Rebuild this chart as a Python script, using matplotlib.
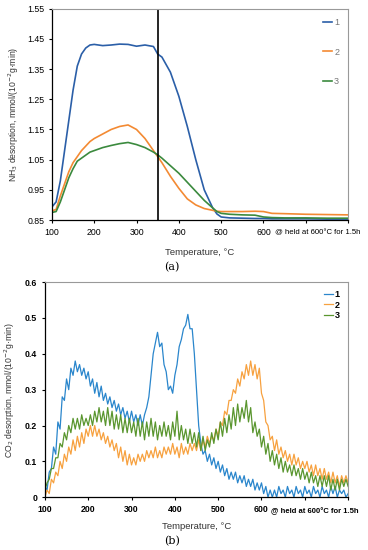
import matplotlib
matplotlib.use("Agg")
import matplotlib.pyplot as plt
import matplotlib.transforms as mtransforms

# (a) NH3 desorption ----------------------------------------------------------
nh3_temp = [100, 110, 120, 130, 140, 150, 160, 170, 180, 190, 200, 220, 240, 260,
            280, 300, 320, 340, 350, 360, 380, 400, 420, 440, 460, 480, 490, 500,
            520, 550, 580, 600, 620, 650, 700, 750, 800]
nh3_1 = [0.893, 0.91, 0.98, 1.08, 1.18, 1.28, 1.36, 1.40, 1.42, 1.43, 1.432, 1.428,
         1.430, 1.433, 1.432, 1.426, 1.43, 1.425, 1.40, 1.39, 1.34, 1.26, 1.16, 1.05,
         0.95, 0.89, 0.87, 0.86, 0.857, 0.856, 0.855, 0.855, 0.854, 0.854, 0.854,
         0.853, 0.853]
nh3_2 = [0.88, 0.885, 0.93, 0.97, 1.01, 1.04, 1.06, 1.08, 1.095, 1.11, 1.12, 1.135,
         1.15, 1.16, 1.165, 1.15, 1.12, 1.08, 1.06, 1.04, 0.995, 0.955, 0.92, 0.90,
         0.888, 0.882, 0.879, 0.878, 0.878, 0.878, 0.879, 0.878, 0.872, 0.871, 0.869,
         0.868, 0.867]
nh3_3 = [0.875, 0.878, 0.91, 0.95, 0.99, 1.02, 1.045, 1.055, 1.065, 1.075, 1.08, 1.09,
         1.097, 1.103, 1.107, 1.10, 1.09, 1.075, 1.066, 1.055, 1.03, 1.005, 0.975,
         0.945, 0.915, 0.89, 0.878, 0.872, 0.869, 0.867, 0.866, 0.86, 0.858, 0.857,
         0.857, 0.856, 0.856]

# (b) CO2 desorption, every 5 degC from 100 to 800 ----------------------------
co2_temp = list(range(100, 805, 5))
co2_1 = [0.03, 0.02, 0.07, 0.08, 0.14, 0.12, 0.21, 0.19, 0.28, 0.27,
         0.33, 0.30, 0.36, 0.34, 0.38, 0.35, 0.37, 0.34, 0.36, 0.33,
         0.35, 0.31, 0.33, 0.29, 0.32, 0.28, 0.31, 0.27, 0.29, 0.26,
         0.28, 0.25, 0.27, 0.24, 0.26, 0.23, 0.25, 0.22, 0.24, 0.21,
         0.24, 0.21, 0.23, 0.20, 0.23, 0.20, 0.23, 0.25, 0.28, 0.34,
         0.40, 0.43, 0.46, 0.42, 0.43, 0.37, 0.35, 0.30, 0.31, 0.29,
         0.34, 0.37, 0.42, 0.44, 0.47, 0.48, 0.51, 0.47, 0.47, 0.40,
         0.30, 0.20, 0.15, 0.12, 0.13, 0.10, 0.12, 0.09, 0.11, 0.08,
         0.10, 0.07, 0.09, 0.06, 0.08, 0.05, 0.07, 0.05, 0.07, 0.04,
         0.06, 0.04, 0.06, 0.03, 0.05, 0.03, 0.05, 0.02, 0.04, 0.02,
         0.04, 0.01, 0.03, 0.00, 0.02, 0.00, 0.02, 0.00, 0.03, 0.01,
         0.02, 0.00, 0.03, 0.01, 0.02, 0.00, 0.03, 0.01, 0.02, 0.00,
         0.03, 0.01, 0.02, 0.00, 0.03, 0.01, 0.02, 0.00, 0.03, 0.01,
         0.02, 0.00, 0.03, 0.01, 0.03, 0.00, 0.02, 0.01, 0.02, 0.00,
         0.01]
co2_2 = [0.00, 0.02, 0.01, 0.05, 0.04, 0.07, 0.06, 0.10, 0.08, 0.12,
         0.10, 0.14, 0.12, 0.16, 0.13, 0.17, 0.14, 0.18, 0.15, 0.19,
         0.17, 0.20, 0.17, 0.20, 0.17, 0.19, 0.16, 0.18, 0.15, 0.17,
         0.14, 0.16, 0.13, 0.15, 0.11, 0.14, 0.10, 0.13, 0.09, 0.12,
         0.09, 0.11, 0.09, 0.12, 0.10, 0.12, 0.10, 0.13, 0.11, 0.13,
         0.11, 0.14, 0.11, 0.13, 0.11, 0.14, 0.12, 0.14, 0.12, 0.15,
         0.12, 0.14, 0.11, 0.15, 0.12, 0.14, 0.12, 0.15, 0.13, 0.15,
         0.13, 0.16, 0.13, 0.16, 0.14, 0.17, 0.15, 0.17, 0.16, 0.19,
         0.17, 0.21, 0.20, 0.24, 0.23, 0.27, 0.27, 0.30, 0.29, 0.33,
         0.31, 0.35, 0.33, 0.37, 0.34, 0.38, 0.34, 0.37, 0.33, 0.36,
         0.29, 0.27, 0.21, 0.20, 0.16, 0.17, 0.13, 0.16, 0.12, 0.14,
         0.11, 0.13, 0.10, 0.12, 0.09, 0.12, 0.09, 0.11, 0.08, 0.10,
         0.08, 0.10, 0.07, 0.09, 0.06, 0.09, 0.06, 0.08, 0.05, 0.08,
         0.05, 0.07, 0.04, 0.07, 0.04, 0.06, 0.03, 0.06, 0.04, 0.06,
         0.04]
co2_3 = [0.02, 0.04, 0.05, 0.08, 0.08, 0.11, 0.11, 0.15, 0.14, 0.18,
         0.16, 0.20, 0.18, 0.22, 0.19, 0.22, 0.19, 0.23, 0.20, 0.22,
         0.20, 0.23, 0.20, 0.24, 0.21, 0.25, 0.21, 0.24, 0.20, 0.25,
         0.20, 0.24, 0.19, 0.23, 0.19, 0.23, 0.18, 0.22, 0.18, 0.22,
         0.18, 0.21, 0.17, 0.22, 0.17, 0.21, 0.16, 0.21, 0.17, 0.22,
         0.17, 0.21, 0.16, 0.20, 0.17, 0.21, 0.17, 0.20, 0.16, 0.21,
         0.17, 0.24, 0.16, 0.20, 0.16, 0.19, 0.15, 0.19, 0.15, 0.18,
         0.14, 0.18, 0.13, 0.17, 0.13, 0.16, 0.14, 0.18, 0.15, 0.19,
         0.16, 0.21, 0.17, 0.22, 0.18, 0.23, 0.19, 0.25, 0.20, 0.26,
         0.21, 0.25, 0.22, 0.27, 0.21, 0.25, 0.18, 0.21, 0.17, 0.19,
         0.14, 0.17, 0.12, 0.15, 0.10, 0.13, 0.09, 0.12, 0.08, 0.11,
         0.07, 0.10, 0.07, 0.09, 0.06, 0.09, 0.06, 0.08, 0.05, 0.08,
         0.05, 0.07, 0.04, 0.07, 0.04, 0.06, 0.03, 0.06, 0.03, 0.06,
         0.03, 0.06, 0.02, 0.05, 0.02, 0.05, 0.02, 0.05, 0.03, 0.05,
         0.03]

x_ticks = [100, 200, 300, 400, 500, 600, 700, 800]
x_ticklabels = ["100", "200", "300", "400", "500", "600", "", ""]
nh3_yticks = [0.85, 0.95, 1.05, 1.15, 1.25, 1.35, 1.45, 1.55]
co2_yticks = [0, 0.1, 0.2, 0.3, 0.4, 0.5, 0.6]
labels = ["1", "2", "3"]
hold_note = "@ held at 600°C for 1.5h"

plt.rcParams["font.family"] = ["Liberation Sans", "DejaVu Sans"]

fig = plt.figure(figsize=(3.68, 5.5), dpi=100)
ax1 = fig.add_axes([0.141, 0.600, 0.805, 0.384])
ax2 = fig.add_axes([0.122, 0.096, 0.824, 0.391])


def style_axes(ax):
    for side in ("top", "right"):
        ax.spines[side].set_color("#999999")
        ax.spines[side].set_linewidth(0.8)
    for side in ("left", "bottom"):
        ax.spines[side].set_color("black")
        ax.spines[side].set_linewidth(0.9)
    ax.tick_params(length=2.5, width=0.8, labelsize=6.3, pad=3)
    ax.set_xlim(100, 800)
    ax.set_xticks(x_ticks)
    ax.set_xticklabels(x_ticklabels)


# top panel
cols1 = ["#2b5fa8", "#f38a33", "#3b8a3e"]
for ys, c, lab in zip([nh3_1, nh3_2, nh3_3], cols1, labels):
    ax1.plot(nh3_temp, ys, color=c, lw=1.2, label=lab)
ax1.axvline(350, color="black", lw=1.2)
style_axes(ax1)
ax1.set_ylim(0.85, 1.55)
ax1.set_yticks(nh3_yticks)
ax1.set_yticklabels([f"{v:.2f}" for v in nh3_yticks])
ax1.set_ylabel("NH$_3$ desorption, mmol/(10$^{-2}$g·min)", fontsize=6.2,
               color="#333333", labelpad=4)
ax1.set_xlabel("Temperature, °C", fontsize=6.8, color="#333333", labelpad=8)
leg1 = ax1.legend(loc="upper right", frameon=False, fontsize=6.5, handlelength=1.0,
                  handletextpad=0.2, labelspacing=2.3, borderaxespad=0.6)
for t in leg1.get_texts():
    t.set_color("#777777")
tr1 = mtransforms.blended_transform_factory(ax1.transData, ax1.transAxes)
ax1.text(628, -0.045, hold_note, transform=tr1, fontsize=5.6, ha="left", va="top",
         clip_on=False)
fig.text(0.468, 0.514, "(a)", fontsize=8, family="DejaVu Serif", ha="center",
         va="center")

# bottom panel
cols2 = ["#2a86cc", "#f7a13f", "#5a962f"]
for ys, c, lab in zip([co2_1, co2_2, co2_3], cols2, labels):
    ax2.plot(co2_temp, ys, color=c, lw=0.9, label=lab)
style_axes(ax2)
ax2.set_ylim(0, 0.6)
ax2.set_yticks(co2_yticks)
ax2.set_yticklabels(["0", "0.1", "0.2", "0.3", "0.4", "0.5", "0.6"])
for t in ax2.get_xticklabels() + ax2.get_yticklabels():
    t.set_fontweight("bold")
ax2.set_ylabel("CO$_2$ desorption, mmol/(10$^{-2}$g·min)", fontsize=6.2,
               color="#333333", labelpad=6)
ax2.set_xlabel("Temperature, °C", fontsize=6.8, color="#333333", labelpad=6)
leg2 = ax2.legend(loc="upper right", frameon=False, fontsize=6.5, handlelength=1.0,
                  handletextpad=0.2, labelspacing=0.15, borderaxespad=0.5)
for t in leg2.get_texts():
    t.set_fontweight("bold")
tr2 = mtransforms.blended_transform_factory(ax2.transData, ax2.transAxes)
ax2.text(622, -0.045, hold_note, transform=tr2, fontsize=5.5, ha="left", va="top",
         fontweight="bold", clip_on=False)
fig.text(0.468, 0.016, "(b)", fontsize=8, family="DejaVu Serif", ha="center",
         va="center")

fig.savefig("out.png", dpi=100)
